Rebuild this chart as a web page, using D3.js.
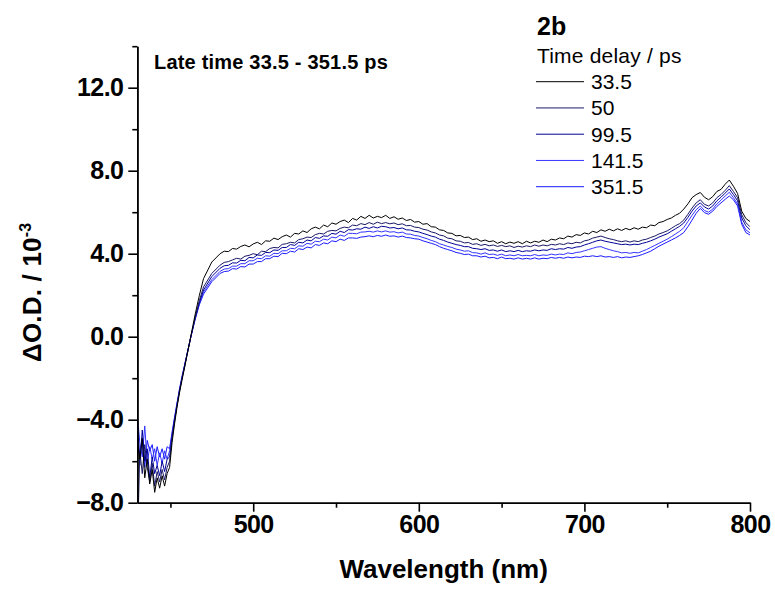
<!DOCTYPE html>
<html>
<head>
<meta charset="utf-8">
<script src="https://cdn.jsdelivr.net/npm/d3@7"></script>
<style>
  html, body { margin: 0; padding: 0; background: #ffffff; }
  svg { display: block; }
  text { font-family: "Liberation Sans", Arial, sans-serif; }
</style>
</head>
<body>
<svg id="chart" width="775" height="590"></svg>
<script>
// ---------- DATA ----------
const wavelengths = [430, 430.3, 431.5, 433, 434.5, 436, 437.5, 439, 440.5, 442, 443.5, 445, 446.5, 448, 449.5, 451, 452.5, 454, 455.5, 457, 458.5, 460, 462.5, 465, 467.5, 470, 475,
  480, 482.5, 485, 487.5, 490, 492.5, 495, 497.5,
  500, 502.5, 505, 507.5, 510, 512.5, 515, 517.5,
  520, 522.5, 525, 527.5, 530, 532.5, 535, 537.5,
  540, 542.5, 545, 547.5, 550, 552.5, 555, 557.5,
  560, 562.5, 565, 567.5, 570, 572.5, 575, 577.5,
  580, 582.5, 585, 587.5, 590, 592.5, 595, 597.5,
  600, 602.5, 605, 607.5, 610, 612.5, 615, 617.5,
  620, 622.5, 625, 627.5, 630, 632.5, 635, 637.5,
  640, 642.5, 645, 647.5, 650, 652.5, 655, 657.5,
  660, 662.5, 665, 667.5, 670, 672.5, 675, 677.5,
  680, 682.5, 685, 687.5, 690, 692.5, 695, 697.5,
  700, 702.5, 705, 707.5, 710, 712.5, 715, 717.5,
  720, 722.5, 725, 727.5, 730, 732.5, 735, 737.5,
  740, 742.5, 745, 747.5, 750, 752.5, 755, 757.5,
  760, 762.5, 765, 767.5, 770, 772.5, 775, 777.5,
  780, 782.5, 785, 787.5, 790, 792.5, 795, 797.5,
  800];

const delays = ["33.5", "50", "99.5", "141.5", "351.5"];

const od_33_5 = [-4.6, -5.2, -5.9, -4.9, -6.8, -5.9, -7.1, -6.4, -7.5, -6.8, -7.3, -6.7, -7.2, -6.6, -6.3, -5.1, -4.2, -3.4, -2.7, -2.1, -1.5, -0.9, 0.1, 1.1, 2.0, 2.8, 3.6,
  4.00, 4.12, 4.10, 4.25, 4.22, 4.35, 4.42, 4.33,
  4.47, 4.55, 4.44, 4.62, 4.60, 4.75, 4.68, 4.82,
  4.90, 4.80, 4.98, 4.95, 5.10, 5.02, 5.20, 5.28,
  5.20, 5.38, 5.30, 5.48, 5.42, 5.55, 5.62, 5.50,
  5.70, 5.62, 5.80, 5.70, 5.85, 5.72, 5.80, 5.74,
  5.85, 5.70, 5.78, 5.66, 5.72, 5.60, 5.65, 5.52,
  5.55, 5.42, 5.45, 5.30, 5.28, 5.15, 5.12, 5.00,
  4.98, 4.86, 4.88, 4.78, 4.80, 4.68, 4.72, 4.60,
  4.66, 4.58, 4.62, 4.50, 4.58, 4.48, 4.56, 4.50,
  4.58, 4.48, 4.60, 4.52, 4.60, 4.55, 4.66, 4.58,
  4.70, 4.66, 4.76, 4.72, 4.85, 4.80, 4.92, 4.88,
  5.00, 4.95, 5.08, 5.02, 5.15, 5.08, 5.18, 5.10,
  5.20, 5.12, 5.22, 5.15, 5.25, 5.18, 5.28, 5.25,
  5.38, 5.35, 5.50, 5.55, 5.65, 5.72, 5.85, 5.95,
  6.15, 6.40, 6.70, 6.85, 6.95, 6.72, 6.60, 6.75,
  7.00, 7.10, 7.35, 7.55, 7.25, 6.90, 6.05, 5.70,
  5.55];

const od_50 = [-2.0, -9.5, -5.5, -6.6, -5.2, -6.3, -7.0, -6.1, -7.2, -6.5, -7.0, -6.4, -6.9, -6.3, -6.0, -4.9, -4.1, -3.3, -2.6, -2.0, -1.5, -0.9, 0.05, 0.95, 1.75, 2.4, 3.05,
  3.45, 3.58, 3.62, 3.70, 3.78, 3.74, 3.88, 3.92,
  4.00, 3.95, 4.12, 4.10, 4.25, 4.30, 4.28, 4.45,
  4.48, 4.55, 4.52, 4.68, 4.72, 4.80, 4.78, 4.92,
  4.98, 4.95, 5.08, 5.12, 5.10, 5.22, 5.28, 5.25,
  5.38, 5.35, 5.45, 5.40, 5.50, 5.42, 5.52, 5.45,
  5.50, 5.44, 5.48, 5.40, 5.44, 5.35, 5.36, 5.28,
  5.26, 5.18, 5.14, 5.05, 5.00, 4.90, 4.86, 4.75,
  4.72, 4.62, 4.60, 4.52, 4.54, 4.45, 4.48, 4.40,
  4.45, 4.38, 4.42, 4.35, 4.40, 4.34, 4.38, 4.30,
  4.36, 4.32, 4.38, 4.34, 4.42, 4.36, 4.42, 4.38,
  4.45, 4.42, 4.48, 4.44, 4.52, 4.48, 4.55, 4.52,
  4.62, 4.66, 4.75, 4.80, 4.85, 4.78, 4.72, 4.68,
  4.62, 4.58, 4.62, 4.56, 4.62, 4.58, 4.66, 4.70,
  4.78, 4.85, 4.95, 5.02, 5.10, 5.22, 5.35, 5.45,
  5.62, 5.90, 6.20, 6.45, 6.60, 6.38, 6.30, 6.45,
  6.70, 6.85, 7.05, 7.28, 7.00, 6.70, 5.88, 5.50,
  5.30];

const od_99_5 = [-4.2, -4.4, -6.2, -4.5, -6.0, -5.4, -6.8, -5.8, -6.6, -6.2, -6.7, -6.0, -6.5, -5.9, -5.8, -4.8, -4.0, -3.3, -2.6, -2.0, -1.4, -0.85, 0.05, 0.9, 1.65, 2.25, 2.9,
  3.30, 3.42, 3.44, 3.56, 3.55, 3.68, 3.66, 3.82,
  3.80, 3.94, 3.92, 4.06, 4.05, 4.18, 4.16, 4.30,
  4.30, 4.44, 4.40, 4.55, 4.52, 4.66, 4.62, 4.78,
  4.74, 4.86, 4.84, 4.98, 4.94, 5.08, 5.02, 5.16,
  5.14, 5.20, 5.18, 5.28, 5.22, 5.30, 5.24, 5.32,
  5.30, 5.24, 5.26, 5.20, 5.24, 5.15, 5.14, 5.08,
  5.05, 4.98, 4.92, 4.85, 4.80, 4.70, 4.64, 4.56,
  4.50, 4.44, 4.40, 4.34, 4.34, 4.26, 4.24, 4.20,
  4.24, 4.16, 4.18, 4.12, 4.18, 4.10, 4.14, 4.10,
  4.16, 4.10, 4.14, 4.12, 4.18, 4.14, 4.18, 4.16,
  4.24, 4.20, 4.24, 4.22, 4.30, 4.26, 4.32, 4.34,
  4.42, 4.48, 4.55, 4.62, 4.66, 4.60, 4.56, 4.52,
  4.48, 4.44, 4.46, 4.42, 4.46, 4.44, 4.50, 4.55,
  4.62, 4.70, 4.80, 4.88, 4.96, 5.08, 5.20, 5.32,
  5.48, 5.75, 6.05, 6.30, 6.45, 6.25, 6.15, 6.30,
  6.55, 6.72, 6.92, 7.12, 6.85, 6.55, 5.72, 5.35,
  5.15];

const od_141_5 = [-3.8, -4.0, -5.1, -5.8, -4.3, -6.1, -5.3, -5.9, -5.4, -6.2, -5.6, -6.1, -5.5, -5.9, -5.5, -4.7, -3.9, -3.2, -2.6, -2.0, -1.4, -0.85, 0.05, 0.9, 1.6, 2.15, 2.75,
  3.15, 3.26, 3.28, 3.40, 3.40, 3.52, 3.52, 3.66,
  3.66, 3.78, 3.76, 3.90, 3.88, 4.02, 4.00, 4.14,
  4.14, 4.26, 4.24, 4.38, 4.36, 4.50, 4.46, 4.60,
  4.58, 4.70, 4.66, 4.80, 4.76, 4.90, 4.84, 4.98,
  4.98, 4.96, 5.04, 5.05, 5.08, 5.04, 5.10, 5.05,
  5.10, 5.04, 5.06, 5.00, 5.04, 4.95, 4.94, 4.88,
  4.85, 4.78, 4.72, 4.64, 4.58, 4.48, 4.42, 4.35,
  4.30, 4.22, 4.18, 4.12, 4.14, 4.05, 4.04, 3.98,
  4.04, 3.96, 3.98, 3.92, 3.98, 3.90, 3.94, 3.90,
  3.96, 3.90, 3.92, 3.90, 3.96, 3.90, 3.94, 3.92,
  3.98, 3.94, 3.98, 3.96, 4.04, 4.00, 4.06, 4.08,
  4.14, 4.20, 4.26, 4.32, 4.34, 4.26, 4.20, 4.14,
  4.10, 4.04, 4.06, 4.02, 4.06, 4.04, 4.12, 4.20,
  4.30, 4.40, 4.50, 4.60, 4.70, 4.82, 4.95, 5.08,
  5.25, 5.55, 5.85, 6.12, 6.30, 6.08, 6.00, 6.15,
  6.40, 6.58, 6.78, 6.96, 6.70, 6.40, 5.52, 5.15,
  5.00];

const od_351_5 = [-4.4, -4.6, -5.8, -4.9, -6.3, -5.0, -5.5, -5.2, -6.0, -5.3, -5.8, -5.4, -5.9, -5.3, -5.4, -4.6, -3.9, -3.2, -2.5, -1.9, -1.4, -0.85, 0.05, 0.85, 1.55, 2.05, 2.65,
  3.05, 3.14, 3.16, 3.28, 3.26, 3.38, 3.36, 3.50,
  3.50, 3.62, 3.62, 3.76, 3.76, 3.88, 3.86, 4.02,
  4.00, 4.12, 4.08, 4.24, 4.20, 4.32, 4.28, 4.44,
  4.40, 4.52, 4.48, 4.62, 4.58, 4.70, 4.64, 4.76,
  4.76, 4.74, 4.80, 4.82, 4.86, 4.82, 4.88, 4.84,
  4.90, 4.84, 4.86, 4.80, 4.85, 4.78, 4.76, 4.72,
  4.70, 4.62, 4.56, 4.50, 4.44, 4.34, 4.26, 4.20,
  4.14, 4.06, 4.02, 3.96, 3.98, 3.90, 3.90, 3.84,
  3.88, 3.80, 3.82, 3.76, 3.84, 3.76, 3.78, 3.74,
  3.80, 3.74, 3.78, 3.74, 3.80, 3.74, 3.78, 3.76,
  3.82, 3.78, 3.82, 3.78, 3.84, 3.80, 3.84, 3.82,
  3.88, 3.86, 3.90, 3.86, 3.90, 3.84, 3.86, 3.82,
  3.86, 3.80, 3.84, 3.82, 3.86, 3.90, 3.96, 4.04,
  4.12, 4.24, 4.36, 4.46, 4.56, 4.66, 4.76, 4.88,
  5.02, 5.30, 5.62, 5.95, 6.18, 5.98, 5.90, 6.05,
  6.28, 6.45, 6.62, 6.78, 6.60, 6.30, 5.42, 5.02,
  4.90];

const seriesValues = [od_33_5, od_50, od_99_5, od_141_5, od_351_5];
const seriesColors = ["#000000", "#191966", "#000096", "#3333ff", "#1a1aff"];

const yMajorTicks = [-8, -4, 0, 4, 8, 12];
const yMinorTicks = [-6, -2, 2, 6, 10, 14];
const xMajorTicks = [500, 600, 700, 800];
const xMinorTicks = [450, 550, 650, 750];

// ---------- LAYOUT ----------
const svg = d3.select("#chart");
const pL = 137.3, pR = 750, pT = 46.2, pB = 502.7;

const x = d3.scaleLinear().domain([430, 800]).range([pL, pR]);
const y = d3.scaleLinear().domain([-8, 14]).range([pB, pT]);

svg.append("rect").attr("width", 775).attr("height", 590).attr("fill", "#fff");

svg.append("defs").append("clipPath").attr("id", "plotclip")
  .append("rect").attr("x", pL).attr("y", pT).attr("width", pR - pL).attr("height", pB - pT);

// ---------- LINES ----------
const line = d3.line().x((d, i) => x(wavelengths[i])).y(d => y(d));
const g = svg.append("g").attr("clip-path", "url(#plotclip)");
for (let s = seriesValues.length - 1; s >= 0; s--) {
  g.append("path")
    .datum(seriesValues[s])
    .attr("d", line)
    .attr("fill", "none")
    .attr("stroke", seriesColors[s])
    .attr("stroke-width", 1)
    .attr("stroke-linejoin", "round");
}

// ---------- AXES ----------
const tickFont = (sel) => sel.selectAll("text")
  .attr("font-family", "'Liberation Sans', Arial, sans-serif")
  .attr("font-weight", "bold")
  .attr("font-size", 25)
  .attr("letter-spacing", "-0.6px")
  .attr("fill", "#000");

svg.append("g").attr("transform", `translate(${pL},0)`)
  .call(d3.axisLeft(y).tickValues(yMinorTicks).tickSize(5).tickSizeOuter(0).tickFormat(""));
const yMajor = svg.append("g").attr("transform", `translate(${pL},0)`)
  .call(d3.axisLeft(y).tickValues(yMajorTicks).tickSize(9).tickSizeOuter(0).tickPadding(5).tickFormat(d3.format(".1f")));
yMajor.call(tickFont);

svg.append("g").attr("transform", `translate(0,${pB})`)
  .call(d3.axisBottom(x).tickValues(xMinorTicks).tickSize(5).tickSizeOuter(0).tickFormat(""));
const xMajor = svg.append("g").attr("transform", `translate(0,${pB})`)
  .call(d3.axisBottom(x).tickValues(xMajorTicks).tickSize(9).tickSizeOuter(0).tickPadding(4).tickFormat(d3.format("d")));
xMajor.call(tickFont);

svg.selectAll(".domain, .tick line").attr("stroke", "#000").attr("stroke-width", 1.6);

// ---------- TITLES ----------
svg.append("text")
  .attr("x", (pL + pR) / 2).attr("y", 578)
  .attr("text-anchor", "middle")
  .attr("font-weight", "bold").attr("font-size", 26).attr("letter-spacing", "0px")
  .text("Wavelength (nm)");

const yt = svg.append("text")
  .attr("transform", "translate(41,362) rotate(-90)")
  .attr("text-anchor", "start")
  .attr("font-weight", "bold").attr("font-size", 26).attr("letter-spacing", "0.2px");
yt.append("tspan").text("\u0394O.D. / 10");
yt.append("tspan").attr("font-size", 16).attr("dy", -10).text("-3");

svg.append("text")
  .attr("x", 154).attr("y", 69)
  .attr("font-weight", "bold").attr("font-size", 20).attr("letter-spacing", "0.2px")
  .text("Late time 33.5 - 351.5 ps");

// ---------- LEGEND ----------
svg.append("text").attr("x", 537).attr("y", 35)
  .attr("font-weight", "bold").attr("font-size", 25).text("2b");
svg.append("text").attr("x", 537).attr("y", 63)
  .attr("font-size", 21).attr("letter-spacing", "0.2px").text("Time delay / ps");

const leg = svg.append("g");
delays.forEach((d, i) => {
  const ly = 81.7 + i * 26.25;
  leg.append("line").attr("x1", 536).attr("x2", 584).attr("y1", ly).attr("y2", ly)
    .attr("stroke", seriesColors[i]).attr("stroke-width", 1);
  leg.append("text").attr("x", 591).attr("y", ly + 7.5)
    .attr("font-size", 21).attr("fill", "#000").text(d);
});
</script>
</body>
</html>
